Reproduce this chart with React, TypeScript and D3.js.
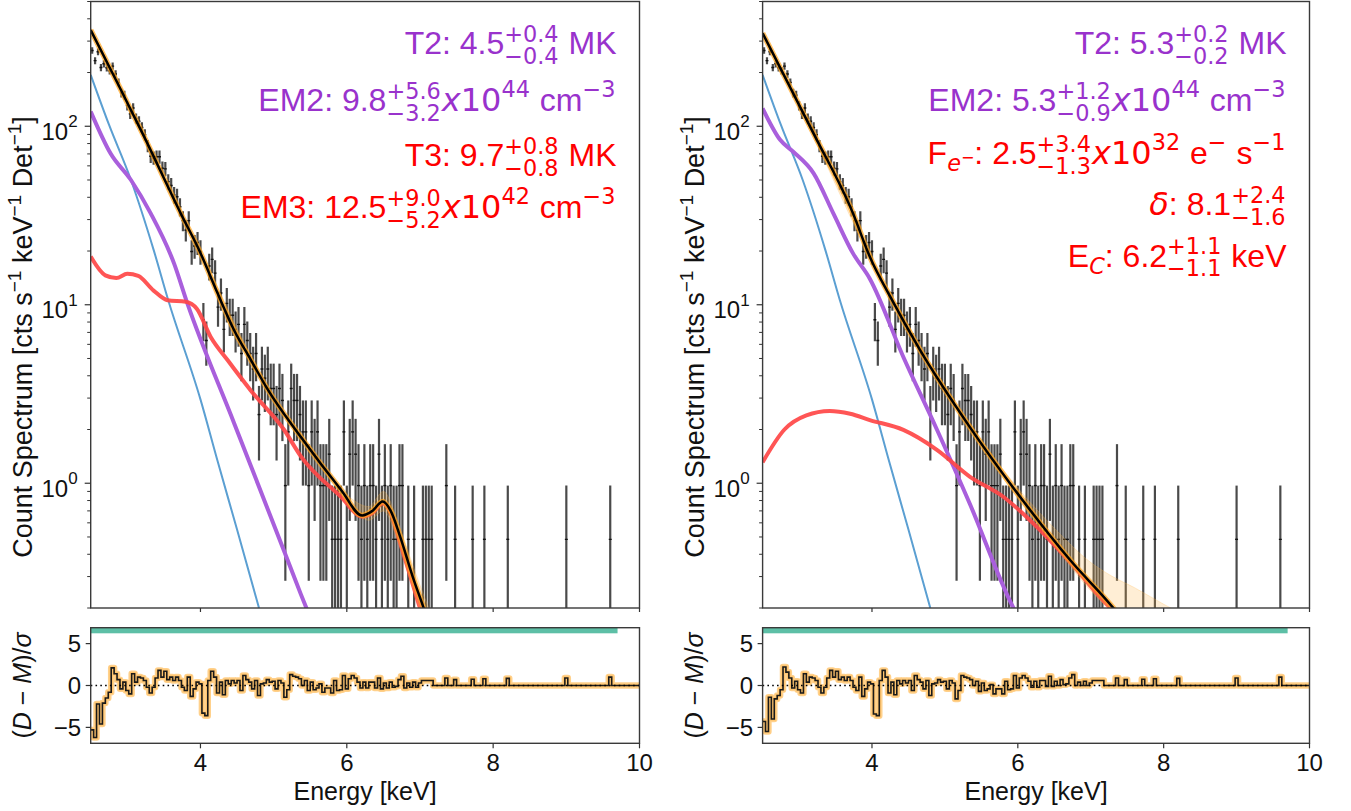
import React, { useEffect, useRef } from "react";
import * as d3 from "d3";

const FONT = "'Liberation Sans', Arial, Helvetica, sans-serif";
const MATH_FONT = "'DejaVu Sans', Verdana, sans-serif";

// ---------------- observed spectrum (same data in both fits) ----------------
const BIN_START = 2.5; // keV
const BIN_WIDTH = 0.04; // keV
const RATE_PER_COUNT = 0.485; // cts s^-1 keV^-1 Det^-1 for one detected count

const observedCounts: number[] = [
  548, 481, 539, 440, 462, 439, 422, 448, 405, 363,
  317, 308, 269, 242, 261, 228, 220, 203, 185, 160,
  140, 137, 139, 139, 120, 119, 101, 96, 85, 83,
  73, 61, 54, 61, 41, 44, 46, 41, 17, 13,
  34, 37, 31, 20, 24, 15, 21, 18, 18, 15,
  16, 11, 16, 13, 11, 9, 11, 5, 9, 8,
  9, 7, 7, 5, 7, 6, 2, 4, 7, 6,
  6, 5, 4, 4, 2, 4, 3, 4, 2, 2,
  2, 3, 1, 1, 1, 1, 4, 1, 3, 4,
  3, 2, 1, 2, 1, 2, 2, 1, 3, 1,
  2, 1, 2, 1, 1, 2, 2, 0, 1, 0,
  1, 0, 0, 1, 1, 1, 1, 0, 0, 0,
  0, 2, 0, 0, 1, 0, 0, 0, 0, 0,
  1, 0, 0, 0, 1, 0, 0, 0, 0, 0,
  0, 0, 1, 0, 0, 0, 0, 0, 0, 0,
  0, 0, 0, 0, 0, 0, 0, 0, 0, 0,
  0, 0, 1, 0, 0, 0, 0, 0, 0, 0,
  0, 0, 0, 0, 0, 0, 0, 1, 0, 0,
  0, 0, 0, 0, 0, 0, 0, 0,
];

// ---------------- residuals (D - M)/sigma per bin ----------------
const residualLeft: number[] = [
  -5.3, -6.2, -2.2, -4.6, -2.1, -1.5, -0.8, 2.1, 1.4, 0.7,
  -0.4, 0.4, -0.6, -1.0, 1.4, 0.4, 1.0, 0.9, 0.6, -0.2,
  -0.9, -0.2, 0.9, 1.8, 1.0, 1.7, 0.7, 1.0, 0.6, 1.0,
  0.6, -0.2, -0.6, 1.0, -1.3, -0.4, 0.4, 0.2, -3.3, -3.6,
  0.6, 1.7, 1.0, -0.9, 0.4, -1.1, 0.6, 0.2, 0.6, 0.3,
  0.6, -0.6, 1.2, 0.7, 0.4, -0.4, 0.6, -1.2, 0.2, 0.3,
  0.7, 0.4, 0.5, -0.4, 0.6, 0.3, -1.4, -0.5, 1.3, 1.1,
  1.0, 0.8, 0.0, 0.6, -0.6, 0.4, -0.5, -0.3, 0.2, -0.8,
  -0.3, -0.3, -0.9, 0.6, -0.6, -0.5, 1.2, -0.4, 0.8, 1.2,
  0.9, 0.4, -0.3, 0.4, -0.3, 0.4, 0.4, -0.3, 0.9, -0.4,
  0.3, -0.3, 0.4, -0.2, -0.1, 0.7, 1.1, -0.3, 0.3, -0.2,
  0.4, -0.2, 0.3, 0.6, 0.6, 0.6, 0.6, 0, 0, 0,
  0, 0.9, 0, 0, 0.7, 0, 0, 0, 0, 0,
  0.75, 0, 0, 0, 0.8, 0, 0, 0, 0, 0,
  0, 0, 0.85, 0, 0, 0, 0, 0, 0, 0,
  0, 0, 0, 0, 0, 0, 0, 0, 0, 0,
  0, 0, 0.9, 0, 0, 0, 0, 0, 0, 0,
  0, 0, 0, 0, 0, 0, 0, 1.0, 0, 0,
  0, 0, 0, 0, 0, 0, 0, 0,
];

const residualRight: number[] = [
  -4.3, -5.5, -1.4, -4.0, -1.6, -1.2, -0.5, 2.2, 1.6, 0.9,
  -0.3, 0.5, -0.5, -0.9, 1.4, 0.4, 1.0, 0.9, 0.6, -0.2,
  -0.9, -0.2, 0.9, 1.8, 1.0, 1.7, 0.7, 1.0, 0.6, 1.0,
  0.6, -0.2, -0.6, 1.0, -1.3, -0.4, 0.4, 0.2, -3.4, -3.6,
  0.6, 1.8, 1.0, -0.9, 0.4, -1.1, 0.6, 0.2, 0.6, 0.3,
  0.6, -0.6, 1.2, 0.7, 0.4, -0.4, 0.6, -1.2, 0.2, 0.3,
  0.7, 0.4, 0.5, -0.4, 0.6, 0.3, -1.6, -0.6, 1.2, 1.0,
  0.9, 0.7, 0.0, 0.5, -0.7, 0.3, -0.6, -0.4, 0.1, -1.0,
  -0.4, -0.4, -1.0, 0.5, -0.5, -0.4, 1.2, -0.3, 0.9, 1.2,
  0.9, 0.5, -0.2, 0.5, -0.2, 0.6, 0.6, -0.1, 1.1, -0.1,
  0.5, 0.0, 0.7, 0.1, 0.2, 0.9, 1.3, 0.0, 0.4, 0.0,
  0.5, 0.0, 0.3, 0.6, 0.6, 0.6, 0.6, 0, 0, 0,
  0, 0.9, 0, 0, 0.7, 0, 0, 0, 0, 0,
  0.75, 0, 0, 0, 0.8, 0, 0, 0, 0, 0,
  0, 0, 0.85, 0, 0, 0, 0, 0, 0, 0,
  0, 0, 0, 0, 0, 0, 0, 0, 0, 0,
  0, 0, 0.9, 0, 0, 0, 0, 0, 0, 0,
  0, 0, 0, 0, 0, 0, 0, 1.0, 0, 0,
  0, 0, 0, 0, 0, 0, 0, 0,
];

// ---------------- model curves (energy keV, count spectrum) ----------------
const coolE = [2.5, 2.75, 3.05, 3.36, 3.56, 4.0, 4.23, 4.5, 4.8];
const coolV = [194, 102, 50, 20.3, 10.6, 2.95, 1.35, 0.55, 0.2];

const leftTotalE = [2.5, 2.89, 3.23, 3.73, 4.0, 4.23, 4.46, 4.69, 4.91, 5.37, 5.92, 6.21, 6.35, 6.49, 6.6, 6.73, 6.9, 7.05, 7.15];
const leftTotalV = [346, 167, 87.5, 32.5, 19.5, 11.7, 7.2, 4.9, 3.4, 1.82, 0.92, 0.66, 0.7, 0.79, 0.7, 0.5, 0.3, 0.2, 0.15];
const leftWarmE = [2.5, 2.77, 3.05, 3.32, 3.64, 3.82, 4.46, 5.14, 5.37, 5.6];
const leftWarmV = [121, 70.6, 50, 32.5, 17, 10.2, 2.17, 0.42, 0.24, 0.14];
const leftHotE = [2.5, 2.7, 2.85, 3.0, 3.15, 3.36, 3.55, 3.8, 3.95, 4.14, 4.37, 4.69, 5.14, 5.37, 5.92, 6.21, 6.35, 6.49, 6.6, 6.73, 6.87, 7.0, 7.1];
const leftHotV = [18.6, 14.6, 14.1, 14.9, 14.5, 12.0, 10.6, 10.4, 9.5, 6.6, 4.9, 3.3, 2.0, 1.42, 0.84, 0.65, 0.68, 0.77, 0.68, 0.46, 0.3, 0.2, 0.15];
const leftBandE = [2.5, 3.0, 4.0, 5.0, 5.5, 6.0, 6.3, 6.5, 6.7, 6.9, 7.1, 7.2];
const leftBandLo = [337, 132, 19.1, 2.9, 1.52, 0.8, 0.62, 0.7, 0.47, 0.26, 0.15, 0.12];
const leftBandHi = [355, 138, 19.9, 3.05, 1.6, 0.86, 0.74, 0.9, 0.6, 0.35, 0.21, 0.17];

const rightTotalE = [2.5, 3.2, 3.74, 3.97, 4.25, 4.66, 5.34, 6.03, 6.72, 7.31, 7.4];
const rightTotalV = [332, 91, 32.5, 18.6, 11.1, 5.57, 2.07, 0.84, 0.37, 0.2, 0.18];
const rightWarmE = [2.5, 2.74, 2.92, 3.2, 3.47, 3.74, 3.97, 4.43, 4.89, 5.34, 5.94, 6.0];
const rightWarmV = [126, 84, 72, 54.5, 32.5, 19.4, 14.0, 5.1, 2.0, 0.77, 0.2, 0.18];
const rightNonThE = [2.5, 2.8, 3.1, 3.42, 3.7, 3.97, 4.43, 4.89, 5.34, 5.8, 6.26, 6.72, 7.27, 7.4];
const rightNonThV = [1.31, 2.0, 2.4, 2.54, 2.45, 2.26, 1.99, 1.54, 1.09, 0.84, 0.57, 0.36, 0.2, 0.18];
const rightBandE = [2.5, 3.0, 4.0, 5.0, 5.5, 6.0, 6.5, 7.0, 7.3, 7.6, 8.0, 8.2];
const rightBandLo = [324, 129, 17.5, 3.32, 1.62, 0.82, 0.45, 0.25, 0.19, 0.16, 0.13, 0.11];
const rightBandHi = [340, 135, 18.3, 3.48, 1.74, 0.94, 0.56, 0.36, 0.3, 0.26, 0.21, 0.19];

const fitRange = [2.5, 9.7];
const xTicks = [4, 6, 8, 10];
const yMajorTicks = [1, 10, 100];
const residualTicks = [-5, 0, 5];

// m: set in the math font (matplotlib mathtext)
type Tok = { t: string; k?: "sup" | "sub" | "ss" | "subsup"; sub?: string; it?: boolean; m?: boolean };
type Note = { color: string; toks: Tok[] };

const PURPLE_TXT = "#9932cc";
const RED_TXT = "#ff0000";
const NB = "\u00a0";

const leftNotes: Note[] = [
  { color: PURPLE_TXT, toks: [{ t: "T2:" + NB + "4.5" }, { k: "ss", t: "+0.4", sub: "−0.4" }, { t: NB + "MK" }] },
  { color: PURPLE_TXT, toks: [{ t: "EM2:" + NB + "9.8" }, { k: "ss", t: "+5.6", sub: "−3.2" }, { t: "x", it: true, m: true }, { t: "10", m: true }, { k: "sup", t: "44" }, { t: NB + "cm" }, { k: "sup", t: "−3" }] },
  { color: RED_TXT, toks: [{ t: "T3:" + NB + "9.7" }, { k: "ss", t: "+0.8", sub: "−0.8" }, { t: NB + "MK" }] },
  { color: RED_TXT, toks: [{ t: "EM3:" + NB + "12.5" }, { k: "ss", t: "+9.0", sub: "−5.2" }, { t: "x", it: true, m: true }, { t: "10", m: true }, { k: "sup", t: "42" }, { t: NB + "cm" }, { k: "sup", t: "−3" }] },
];
const rightNotes: Note[] = [
  { color: PURPLE_TXT, toks: [{ t: "T2:" + NB + "5.3" }, { k: "ss", t: "+0.2", sub: "−0.2" }, { t: NB + "MK" }] },
  { color: PURPLE_TXT, toks: [{ t: "EM2:" + NB + "5.3" }, { k: "ss", t: "+1.2", sub: "−0.9" }, { t: "x", it: true, m: true }, { t: "10", m: true }, { k: "sup", t: "44" }, { t: NB + "cm" }, { k: "sup", t: "−3" }] },
  { color: RED_TXT, toks: [{ t: "F" }, { k: "sub", t: "e", it: true }, { k: "subsup", t: "−" }, { t: ":" + NB + "2.5" }, { k: "ss", t: "+3.4", sub: "−1.3" }, { t: "x", it: true, m: true }, { t: "10", m: true }, { k: "sup", t: "32" }, { t: NB + "e" }, { k: "sup", t: "−" }, { t: NB + "s" }, { k: "sup", t: "−1" }] },
  { color: RED_TXT, toks: [{ t: "δ", it: true, m: true }, { t: ":" + NB + "8.1" }, { k: "ss", t: "+2.4", sub: "−1.6" }] },
  { color: RED_TXT, toks: [{ t: "E" }, { k: "sub", t: "C", it: true }, { t: ":" + NB + "6.2" }, { k: "ss", t: "+1.1", sub: "−1.1" }, { t: NB + "keV" }] },
];

// ---------------- layout ----------------
const W = 1351;
const H = 811;
const MAIN_TOP = 1.5;
const MAIN_BOT = 608;
const RES_TOP = 627.7;
const RES_BOT = 743.3;

type Curve = { e: number[]; v: number[] };
type PanelSpec = {
  id: string;
  x0: number;
  x1: number;
  total: Curve;
  warm: Curve;
  hot: Curve;
  band: { e: number[]; lo: number[]; hi: number[] };
  resid: number[];
  notes: Note[];
  noteRight: number;
  noteBase: number[];
};

const panels: PanelSpec[] = [
  {
    id: "L",
    x0: 90.7,
    x1: 639.5,
    total: { e: leftTotalE, v: leftTotalV },
    warm: { e: leftWarmE, v: leftWarmV },
    hot: { e: leftHotE, v: leftHotV },
    band: { e: leftBandE, lo: leftBandLo, hi: leftBandHi },
    resid: residualLeft,
    notes: leftNotes,
    noteRight: 616.5,
    noteBase: [54.3, 111, 166, 218],
  },
  {
    id: "R",
    x0: 762.6,
    x1: 1309.5,
    total: { e: rightTotalE, v: rightTotalV },
    warm: { e: rightWarmE, v: rightWarmV },
    hot: { e: rightNonThE, v: rightNonThV },
    band: { e: rightBandE, lo: rightBandLo, hi: rightBandHi },
    resid: residualRight,
    notes: rightNotes,
    noteRight: 1286.5,
    noteBase: [54.3, 111, 164.3, 215, 266.7],
  },
];

// Each annotation line is one <text>; every piece is a positioned <tspan>,
// laid out right-to-left from measured widths.
function MathNotes({ notes, xRight, baselines, fs }: { notes: Note[]; xRight: number; baselines: number[]; fs: number }) {
  const ref = useRef<SVGGElement>(null);
  useEffect(() => {
    const g = d3.select(ref.current);
    g.selectAll("*").remove();
    notes.forEach((note, li) => {
      const yb = baselines[li];
      let x = xRight;
      const line = g.append("text").attr("fill", note.color).attr("font-family", FONT).attr("font-size", fs);
      const mk = (txt: string, size: number, yy: number, it?: boolean, math?: boolean) =>
        line
          .append("tspan")
          .attr("y", yy)
          .attr("font-size", size)
          .attr("font-family", math ? MATH_FONT : FONT)
          .attr("font-style", it ? "italic" : "normal")
          .text(txt);
      const len = (s: d3.Selection<SVGTSpanElement, unknown, null, undefined>) => (s.node() as SVGTSpanElement).getComputedTextLength();
      const sfs = fs * 0.7;
      for (let j = note.toks.length - 1; j >= 0; j--) {
        const tk = note.toks[j];
        if (tk.k === "ss") {
          const a = mk(tk.t, sfs, yb - fs * 0.39, false, true);
          const b = mk(tk.sub || "", sfs, yb + fs * 0.3, false, true);
          const w = Math.max(len(a), len(b));
          x -= w + 1;
          a.attr("x", x);
          b.attr("x", x);
        } else if (tk.k === "sup") {
          const a = mk(tk.t, sfs, yb - fs * 0.44, tk.it, true);
          x -= len(a) + 1;
          a.attr("x", x);
        } else if (tk.k === "sub") {
          const a = mk(tk.t, sfs, yb + fs * 0.22, tk.it, true);
          x -= len(a);
          a.attr("x", x);
        } else if (tk.k === "subsup") {
          const a = mk(tk.t, fs * 0.5, yb - fs * 0.05, tk.it, true);
          x -= len(a);
          a.attr("x", x);
        } else {
          const a = mk(tk.t, fs, yb, tk.it, tk.m);
          x -= len(a);
          a.attr("x", x);
        }
      }
    });
  }, [notes, xRight, baselines, fs]);
  return <g ref={ref} />;
}

function Panel({ p }: { p: PanelSpec }) {
  const x = d3.scaleLinear().domain([2.5, 10]).range([p.x0, p.x1]);
  const y = d3.scaleLog().domain([0.2, 500]).range([MAIN_BOT, MAIN_TOP]);
  const yr = d3.scaleLinear().domain([-6.9, 6.9]).range([RES_BOT, RES_TOP]);

  const curvePath = (c: Curve) =>
    d3
      .line<number>()
      .x((_, i) => x(c.e[i]))
      .y((d) => y(d))
      .curve(d3.curveMonotoneX)(c.v) || "";

  const bandPath =
    d3
      .area<number>()
      .x((_, i) => x(p.band.e[i]))
      .y0((_, i) => y(p.band.lo[i]))
      .y1((_, i) => y(p.band.hi[i]))
      .curve(d3.curveMonotoneX)(p.band.e) || "";

  const stepPts: [number, number][] = p.resid.map((r, i) => [BIN_START + i * BIN_WIDTH, r]);
  stepPts.push([BIN_START + p.resid.length * BIN_WIDTH, p.resid[p.resid.length - 1]]);
  const stepPath =
    d3
      .line<[number, number]>()
      .x((d) => x(d[0]))
      .y((d) => yr(d[1]))
      .curve(d3.curveStepAfter)(stepPts) || "";

  const mainClip = `clipMain${p.id}`;
  const resClip = `clipRes${p.id}`;
  const minorTicks = y.ticks().filter((t) => !yMajorTicks.includes(t));

  const spine = "#3a3a3a";
  const tickColor = "#333";

  return (
    <g>
      <defs>
        <clipPath id={mainClip}>
          <rect x={p.x0} y={MAIN_TOP} width={p.x1 - p.x0} height={MAIN_BOT - MAIN_TOP} />
        </clipPath>
        <clipPath id={resClip}>
          <rect x={p.x0} y={RES_TOP} width={p.x1 - p.x0} height={RES_BOT - RES_TOP} />
        </clipPath>
      </defs>

      {/* ---------- main spectrum panel ---------- */}
      <g clipPath={`url(#${mainClip})`}>
        {observedCounts.map((n, i) => {
          if (n <= 0) return null;
          const e = BIN_START + (i + 0.5) * BIN_WIDTH;
          const v = n * RATE_PER_COUNT;
          const err = Math.sqrt(n) * RATE_PER_COUNT;
          const lo = Math.max(v - err, 0.05);
          return (
            <g key={i}>
              <line x1={x(e)} x2={x(e)} y1={y(lo)} y2={y(v + err)} stroke="#2a2a2a" strokeOpacity={0.85} strokeWidth={2.2} />
              <line x1={x(e - BIN_WIDTH / 2)} x2={x(e + BIN_WIDTH / 2)} y1={y(v)} y2={y(v)} stroke="#111" strokeWidth={1.4} />
            </g>
          );
        })}
        <path d={curvePath({ e: coolE, v: coolV })} fill="none" stroke="#5b9fd2" strokeWidth={2} />
        <path d={curvePath(p.warm)} fill="none" stroke="#a95fdc" strokeWidth={4} />
        <path d={curvePath(p.hot)} fill="none" stroke="#ff4747" strokeOpacity={0.92} strokeWidth={4} />
        <path d={bandPath} fill="#ffb23f" fillOpacity={0.22} stroke="#ffb23f" strokeOpacity={0.25} strokeWidth={1} />
        <path d={curvePath(p.total)} fill="none" stroke="#ffa31a" strokeOpacity={0.7} strokeWidth={5.5} />
        <path d={curvePath(p.total)} fill="none" stroke="#000" strokeWidth={2.5} />
      </g>
      <rect x={p.x0} y={MAIN_TOP} width={p.x1 - p.x0} height={MAIN_BOT - MAIN_TOP} fill="none" stroke={spine} strokeWidth={1.4} />
      {yMajorTicks.map((t) => (
        <g key={`ym${t}`}>
          <line x1={p.x0 - 6} x2={p.x0} y1={y(t)} y2={y(t)} stroke={tickColor} strokeWidth={1.2} />
          <text x={p.x0 - 13} y={y(t) + 13.5} textAnchor="end" fontSize={24} fontFamily={FONT} fill="#111">
            10
            <tspan dy={-12.5} fontSize={17}>
              {String(Math.round(Math.log10(t)))}
            </tspan>
          </text>
        </g>
      ))}
      {minorTicks.map((t) => (
        <line key={`yn${t}`} x1={p.x0 - 3.5} x2={p.x0} y1={y(t)} y2={y(t)} stroke={tickColor} strokeWidth={1} />
      ))}
      {xTicks.map((t) => (
        <line key={`xm${t}`} x1={x(t)} x2={x(t)} y1={MAIN_BOT} y2={MAIN_BOT + 4} stroke={tickColor} strokeWidth={1.2} />
      ))}
      <text
        transform={`translate(${p.x0 - 58.5},${337}) rotate(-90)`}
        textAnchor="middle"
        fontSize={27}
        fontFamily={FONT}
        fill="#111"
      >
        Count Spectrum [cts s
        <tspan dy={-11} fontSize={19}>
          −1
        </tspan>
        <tspan dy={11}> keV</tspan>
        <tspan dy={-11} fontSize={19}>
          −1
        </tspan>
        <tspan dy={11}> Det</tspan>
        <tspan dy={-11} fontSize={19}>
          −1
        </tspan>
        <tspan dy={11}>]</tspan>
      </text>
      <MathNotes notes={p.notes} xRight={p.noteRight} baselines={p.noteBase} fs={32} />

      {/* ---------- residual panel ---------- */}
      <g clipPath={`url(#${resClip})`}>
        <rect x={x(fitRange[0])} y={RES_TOP} width={x(fitRange[1]) - x(fitRange[0])} height={5.6} fill="#5dbfa6" />
        <path d={stepPath} fill="none" stroke="#ffa31a" strokeOpacity={0.5} strokeWidth={6.5} strokeLinejoin="round" />
        <path d={stepPath} fill="none" stroke="#ffb84d" strokeOpacity={0.5} strokeWidth={3.5} />
        <path d={stepPath} fill="none" stroke="#1a1a1a" strokeWidth={1.6} />
        <line x1={p.x0} x2={p.x1} y1={yr(0)} y2={yr(0)} stroke="#000" strokeWidth={1.6} strokeDasharray="1.6,3.2" />
      </g>
      <rect x={p.x0} y={RES_TOP} width={p.x1 - p.x0} height={RES_BOT - RES_TOP} fill="none" stroke={spine} strokeWidth={1.4} />
      {residualTicks.map((t) => (
        <g key={`yr${t}`}>
          <line x1={p.x0 - 5} x2={p.x0} y1={yr(t)} y2={yr(t)} stroke={tickColor} strokeWidth={1.2} />
          <text x={p.x0 - 9.5} y={yr(t) + 8.7} textAnchor="end" fontSize={24} fontFamily={FONT} fill="#111">
            {t < 0 ? `−${Math.abs(t)}` : String(t)}
          </text>
        </g>
      ))}
      {xTicks.map((t) => (
        <g key={`xr${t}`}>
          <line x1={x(t)} x2={x(t)} y1={RES_BOT} y2={RES_BOT + 5} stroke={tickColor} strokeWidth={1.2} />
          <text x={x(t)} y={771} textAnchor="middle" fontSize={24} fontFamily={FONT} fill="#111">
            {String(t)}
          </text>
        </g>
      ))}
      <text x={(p.x0 + p.x1) / 2} y={800} textAnchor="middle" fontSize={25} fontFamily={FONT} fill="#111">
        Energy [keV]
      </text>
      <text transform={`translate(${p.x0 - 60},${685.5}) rotate(-90)`} textAnchor="middle" fontSize={25} fontFamily={FONT} fill="#111">
        (<tspan fontStyle="italic">D</tspan> − <tspan fontStyle="italic">M</tspan>)/<tspan fontStyle="italic">σ</tspan>
      </text>
    </g>
  );
}

export default function App() {
  return (
    <svg
      width={W}
      height={H}
      viewBox={`0 0 ${W} ${H}`}
      style={{ position: "absolute", left: 0, top: 0, background: "#fff" }}
      fontFamily={FONT}
    >
      <rect x={0} y={0} width={W} height={H} fill="#fff" />
      {panels.map((p) => (
        <Panel key={p.id} p={p} />
      ))}
    </svg>
  );
}
